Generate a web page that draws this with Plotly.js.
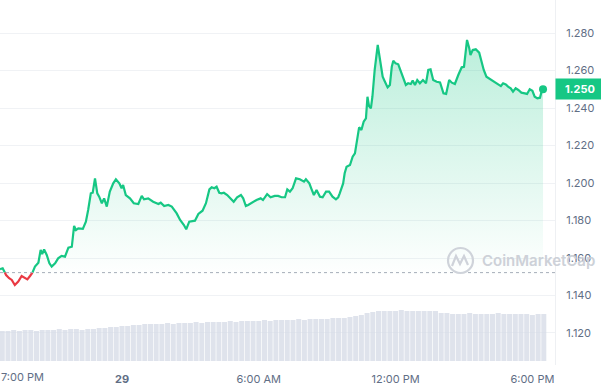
<!DOCTYPE html>
<html>
<head>
<meta charset="utf-8">
<script src="https://cdn.plot.ly/plotly-3.0.1.min.js"></script>
<style>html,body{margin:0;padding:0;background:#fff;}#chart{width:601px;height:389px;}</style>
</head>
<body>
<div id="chart"></div>
<script>
// ---- data ----
const priceTimes = [
'2023-06-28 18:39','2023-06-28 18:46','2023-06-28 18:55','2023-06-28 19:03','2023-06-28 19:10','2023-06-28 19:18','2023-06-28 19:27','2023-06-28 19:36','2023-06-28 19:45','2023-06-28 19:51',
'2023-06-28 19:58','2023-06-28 20:04','2023-06-28 20:11','2023-06-28 20:20','2023-06-28 20:22','2023-06-28 20:26','2023-06-28 20:30','2023-06-28 20:35','2023-06-28 20:42','2023-06-28 20:49',
'2023-06-28 20:55','2023-06-28 21:04','2023-06-28 21:12','2023-06-28 21:21','2023-06-28 21:30','2023-06-28 21:39','2023-06-28 21:48','2023-06-28 21:54','2023-06-28 21:59','2023-06-28 22:05',
'2023-06-28 22:17','2023-06-28 22:25','2023-06-28 22:31','2023-06-28 22:38','2023-06-28 22:43','2023-06-28 22:49','2023-06-28 22:55','2023-06-28 23:00','2023-06-28 23:07','2023-06-28 23:13',
'2023-06-28 23:20','2023-06-28 23:28','2023-06-28 23:37','2023-06-28 23:44','2023-06-28 23:53','2023-06-28 23:59','2023-06-29 00:03','2023-06-29 00:10','2023-06-29 00:21','2023-06-29 00:31',
'2023-06-29 00:43','2023-06-29 00:52','2023-06-29 00:58','2023-06-29 01:09','2023-06-29 01:22','2023-06-29 01:36','2023-06-29 01:42','2023-06-29 01:51','2023-06-29 02:02','2023-06-29 02:11',
'2023-06-29 02:24','2023-06-29 02:33','2023-06-29 02:43','2023-06-29 02:49','2023-06-29 02:57','2023-06-29 03:12','2023-06-29 03:21','2023-06-29 03:32','2023-06-29 03:41','2023-06-29 03:50',
'2023-06-29 03:56','2023-06-29 04:03','2023-06-29 04:09','2023-06-29 04:16','2023-06-29 04:22','2023-06-29 04:28','2023-06-29 04:37','2023-06-29 04:48','2023-06-29 04:54','2023-06-29 05:03',
'2023-06-29 05:13','2023-06-29 05:19','2023-06-29 05:26','2023-06-29 05:32','2023-06-29 05:41','2023-06-29 05:54','2023-06-29 06:05','2023-06-29 06:11','2023-06-29 06:22','2023-06-29 06:31',
'2023-06-29 06:42','2023-06-29 06:51','2023-06-29 07:00','2023-06-29 07:09','2023-06-29 07:15','2023-06-29 07:22','2023-06-29 07:29','2023-06-29 07:38','2023-06-29 07:48','2023-06-29 07:59',
'2023-06-29 08:04','2023-06-29 08:13','2023-06-29 08:19','2023-06-29 08:25','2023-06-29 08:32','2023-06-29 08:41','2023-06-29 08:48','2023-06-29 08:57','2023-06-29 09:05','2023-06-29 09:14',
'2023-06-29 09:23','2023-06-29 09:29','2023-06-29 09:33','2023-06-29 09:42','2023-06-29 09:46','2023-06-29 09:51','2023-06-29 10:00','2023-06-29 10:07','2023-06-29 10:13','2023-06-29 10:19',
'2023-06-29 10:24','2023-06-29 10:30','2023-06-29 10:36','2023-06-29 10:42','2023-06-29 10:46','2023-06-29 10:50','2023-06-29 10:55','2023-06-29 10:59','2023-06-29 11:05','2023-06-29 11:13',
'2023-06-29 11:19','2023-06-29 11:26','2023-06-29 11:32','2023-06-29 11:39','2023-06-29 11:45','2023-06-29 11:50','2023-06-29 11:54','2023-06-29 12:00','2023-06-29 12:07','2023-06-29 12:14',
'2023-06-29 12:20','2023-06-29 12:27','2023-06-29 12:33','2023-06-29 12:40','2023-06-29 12:45','2023-06-29 12:51','2023-06-29 12:57','2023-06-29 13:04','2023-06-29 13:12','2023-06-29 13:20',
'2023-06-29 13:26','2023-06-29 13:32','2023-06-29 13:39','2023-06-29 13:48','2023-06-29 13:57','2023-06-29 14:06','2023-06-29 14:13','2023-06-29 14:21','2023-06-29 14:28','2023-06-29 14:36',
'2023-06-29 14:45','2023-06-29 14:54','2023-06-29 15:00','2023-06-29 15:05','2023-06-29 15:08','2023-06-29 15:14','2023-06-29 15:17','2023-06-29 15:23','2023-06-29 15:31','2023-06-29 15:40',
'2023-06-29 15:46','2023-06-29 15:52','2023-06-29 15:59','2023-06-29 16:06','2023-06-29 16:13','2023-06-29 16:21','2023-06-29 16:30','2023-06-29 16:37','2023-06-29 16:43','2023-06-29 16:50',
'2023-06-29 16:56','2023-06-29 17:03','2023-06-29 17:09','2023-06-29 17:16','2023-06-29 17:23','2023-06-29 17:31','2023-06-29 17:40','2023-06-29 17:46','2023-06-29 17:53','2023-06-29 18:00',
'2023-06-29 18:06','2023-06-29 18:13','2023-06-29 18:20','2023-06-29 18:24','2023-06-29 18:28'
];
const prices = [
1.1540,1.1545,1.1509,1.1492,1.1483,1.1456,1.1474,1.1504,1.1492,1.1486,
1.1504,1.1520,1.1554,1.1575,1.1607,1.1643,1.1621,1.1646,1.1616,1.1572,
1.1554,1.1572,1.1598,1.1611,1.1607,1.1655,1.1660,1.1771,1.1749,1.1758,
1.1755,1.1794,1.1856,1.1945,1.1948,1.2025,1.1945,1.1927,1.1892,1.1918,
1.1874,1.1954,1.1998,1.2020,1.1998,1.1972,1.1989,1.1936,1.1918,1.1892,
1.1888,1.1931,1.1913,1.1918,1.1900,1.1888,1.1895,1.1877,1.1883,1.1874,
1.1838,1.1803,1.1776,1.1753,1.1794,1.1799,1.1835,1.1852,1.1892,1.1966,
1.1977,1.1972,1.1980,1.1948,1.1945,1.1948,1.1936,1.1909,1.1900,1.1924,
1.1936,1.1918,1.1877,1.1883,1.1895,1.1909,1.1918,1.1909,1.1941,1.1924,
1.1931,1.1931,1.1924,1.1924,1.1966,1.1954,1.1972,1.2025,1.2020,1.2007,
1.2020,1.1998,1.1966,1.1936,1.1963,1.1927,1.1924,1.1954,1.1954,1.1927,
1.1913,1.1924,1.1945,1.1998,1.2052,1.2087,1.2096,1.2140,1.2158,1.2229,
1.2297,1.2283,1.2327,1.2345,1.2460,1.2411,1.2398,1.2460,1.2603,1.2736,
1.2647,1.2567,1.2540,1.2510,1.2523,1.2620,1.2652,1.2638,1.2633,1.2594,
1.2558,1.2523,1.2532,1.2528,1.2546,1.2523,1.2549,1.2532,1.2549,1.2532,
1.2603,1.2606,1.2549,1.2540,1.2536,1.2478,1.2475,1.2549,1.2535,1.2528,
1.2576,1.2617,1.2620,1.2709,1.2763,1.2718,1.2683,1.2709,1.2713,1.2695,
1.2647,1.2603,1.2567,1.2558,1.2549,1.2535,1.2528,1.2517,1.2532,1.2526,
1.2514,1.2505,1.2487,1.2505,1.2496,1.2482,1.2478,1.2475,1.2500,1.2492,
1.2460,1.2452,1.2455,1.2487,1.2500
];
const openPrice = 1.1522;
const lastPriceLabel = '1.250';
// volume bars, one per 15 minutes starting 18:45 (relative units)
const volumeStart = '2023-06-28 18:45';
const volumes = [
30,30,31,30,31,31,30,31,31,31,32,31,32,32,31,32,32,33,
33,34,34,35,35,36,36,37,37,
37,37,38,37,38,38,38,39,38,39,39,39,39,40,39,40,40,
40,40,41,40,41,41,41,41,42,41,42,42,42,42,43,43,43,
44,45,46,48,
49,50,50,50,50,51,50,50,50,50,50,50,
48,48,47,47,47,48,47,47,47,47,48,47,47,47,47,47,46,47,47
];
const xTickVals = ['2023-06-29 00:00','2023-06-29 06:00','2023-06-29 12:00','2023-06-29 18:00'];
const xTickText = ['<b>29</b>','6:00 AM','12:00 PM','6:00 PM'];
const firstTickText = '7:00 PM';

// ---- split line into up (green) / down (red) parts at the open price ----
const GREEN = '#16c784', RED = '#ea3943';
function toMs(s){ return Date.parse(s.replace(' ','T') + ':00Z'); }
function fromMs(ms){ return new Date(ms).toISOString().slice(0,19).replace('T',' '); }
const gx=[], gy=[], rx=[], ry=[];
for (let i=0;i<prices.length;i++){
  if (i>0){
    const a=prices[i-1]-openPrice, b=prices[i]-openPrice;
    if (a*b<0){
      const t1=toMs(priceTimes[i-1]), t2=toMs(priceTimes[i]);
      const tc = fromMs(t1 + (t2-t1)*(openPrice-prices[i-1])/(prices[i]-prices[i-1]));
      gx.push(tc); gy.push(openPrice); rx.push(tc); ry.push(openPrice);
    }
  }
  const up = prices[i] >= openPrice;
  gx.push(priceTimes[i]); gy.push(up?prices[i]:null);
  rx.push(priceTimes[i]); ry.push(up?null:prices[i]);
}

const tickFont = {family:'Inter, "Open Sans", sans-serif', size:11, color:'#616e85'};

const traces = [
  { type:'scatter', mode:'lines', x:gx, y:gy, line:{color:GREEN, width:2.2}, connectgaps:false,
    fill:'tozeroy',
    fillgradient:{type:'vertical', start:1.15, stop:1.28,
      colorscale:[[0,'rgba(22,199,132,0)'],[1,'rgba(22,199,132,0.30)']]},
    hoverinfo:'skip', showlegend:false },
  { type:'scatter', mode:'lines', x:rx, y:ry, line:{color:RED, width:2.2}, connectgaps:false,
    hoverinfo:'skip', showlegend:false },
  { type:'scatter', mode:'markers', x:[priceTimes[priceTimes.length-1]], y:[prices[prices.length-1]],
    marker:{color:GREEN, size:8}, hoverinfo:'skip', showlegend:false },
  { type:'bar', x0:volumeStart, dx:15*60*1000, y:volumes, yaxis:'y2',
    marker:{color:'rgba(212,218,229,0.75)', line:{width:0}}, hoverinfo:'skip', showlegend:false }
];

const layout = {
  width:601, height:389,
  margin:{l:0, r:46, t:0, b:24},
  paper_bgcolor:'#ffffff', plot_bgcolor:'#ffffff',
  bargap:0.12,
  xaxis:{type:'date', range:['2023-06-28 18:39','2023-06-29 18:59:30'],
    tickvals:xTickVals, ticktext:xTickText, showgrid:false, zeroline:false, showline:false,
    ticks:'', tickfont:tickFont, ticklabelstandoff:6},
  yaxis:{side:'right', range:[1.10293,1.2976], dtick:0.02, tick0:1.12, tickformat:'.3f',
    showgrid:true, gridcolor:'#f0f2f5', gridwidth:1, zeroline:false,
    showline:true, linecolor:'#eef0f3', linewidth:1,
    ticks:'', tickfont:tickFont, ticklabelstandoff:8},
  yaxis2:{overlaying:'y', range:[-4,361], visible:false, showgrid:false, zeroline:false},
  shapes:[
    {type:'line', xref:'paper', x0:0, x1:1, yref:'y', y0:openPrice, y1:openPrice,
     line:{color:'#a6adb9', width:1, dash:'dot'}},
    {type:'circle', xref:'paper', yref:'paper', x0:448/555, x1:473/555, y0:1-273/365, y1:1-248/365,
     line:{color:'#cfd3da', width:2.2}},
    {type:'path', xref:'paper', yref:'paper',
     path:'M '+(452/555)+' '+(1-266/365)+' L '+(456/555)+' '+(1-256/365)+' L '+(460/555)+' '+(1-264/365)+' L '+(464/555)+' '+(1-256/365)+' L '+(468/555)+' '+(1-265/365),
     line:{color:'#cfd3da', width:2.2}}
  ],
  annotations:[
    {xref:'paper', yref:'y', x:1, y:prices[prices.length-1], xanchor:'left', yanchor:'middle',
     text:'<b>'+lastPriceLabel+'</b>', showarrow:false, bgcolor:GREEN, borderpad:3, width:42,
     font:{family:'Inter, "Open Sans", sans-serif', size:11, color:'#ffffff'}},
    {xref:'paper', yref:'paper', x:22/555, y:-12/365, xanchor:'center', yanchor:'middle',
     text:firstTickText, showarrow:false, font:tickFont},
    {xref:'paper', yref:'paper', x:480/555, y:1-260/365, xanchor:'left', yanchor:'middle',
     text:'CoinMarketCap', showarrow:false,
     font:{family:'Inter, "Open Sans", sans-serif', size:15, color:'#cdd1d8', weight:600}}
  ]
};

Plotly.newPlot('chart', traces, layout, {displayModeBar:false, staticPlot:true});
</script>
</body>
</html>
